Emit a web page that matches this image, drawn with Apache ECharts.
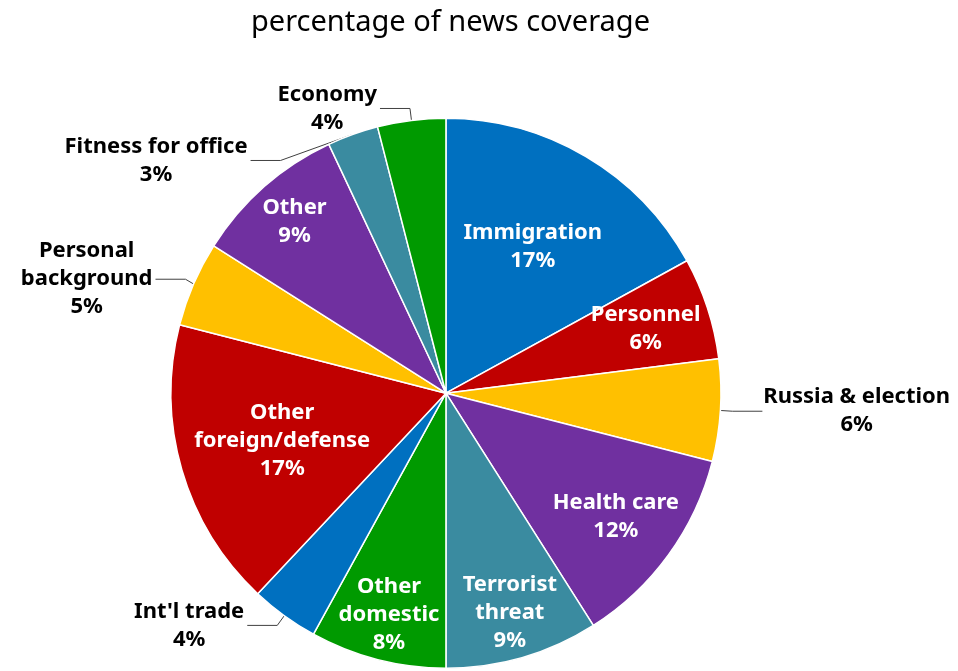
<!DOCTYPE html>
<html>
<head>
<meta charset="utf-8">
<script src="https://cdn.jsdelivr.net/npm/echarts@6/dist/echarts.min.js"></script>
<style>html,body{margin:0;padding:0;background:#fff;}#c{width:958px;height:671px;}</style>
</head>
<body>
<div id="c"></div>
<script>
const title = 'percentage of news coverage';
const categories = ['Immigration', 'Personnel', 'Russia & election', 'Health care', 'Terrorist\nthreat', 'Other\ndomestic', "Int'l trade", 'Other\nforeign/defense', 'Personal\nbackground', 'Other', 'Fitness for office', 'Economy'];
const values = [17, 6, 6, 12, 9, 8, 4, 17, 5, 9, 3, 4];

const palette = ['#0070C0', '#C00000', '#FFC000', '#7030A0', '#3A8BA0', '#009A00', '#0070C0', '#C00000', '#FFC000', '#7030A0', '#3A8BA0', '#009A00'];
const outsideSet = new Set(['Russia & election', "Int'l trade", 'Personal\nbackground', 'Fitness for office', 'Economy']);
// inside label rings (inner radius of a transparent ring whose mid-radius places the label)
const labelRings = [
  { r0: 60, names: ['Immigration', 'Other\nforeign/defense'] },
  { r0: 139, names: ['Personnel', 'Health care'] },
  { r0: 177, names: ['Terrorist\nthreat', 'Other\ndomestic', 'Other'] }
];
const FONT = 'Noto Sans';
const center = ['46.55%', '58.6%'];
const R = 275;

const fmt = p => p.name.split('\n').map(s => '{a|' + s + '}').join('\n') + '\n{a|' + Math.round(p.value) + '%}';

function mainData() {
  return categories.map((n, i) => {
    const out = outsideSet.has(n);
    return {
      name: n, value: values[i],
      itemStyle: { color: palette[i] },
      label: { show: out },
      labelLine: { show: out }
    };
  });
}
function labelData(names) {
  return categories.map((n, i) => ({
    name: n, value: values[i],
    itemStyle: { color: 'rgba(0,0,0,0)', borderWidth: 0 },
    label: { show: names.indexOf(n) >= 0 }
  }));
}
const insideLabel = {
  position: 'inside', formatter: fmt, overflow: 'none',
  rich: { a: { color: '#fff', fontWeight: 'bold', fontSize: 22, fontFamily: FONT, lineHeight: 28, align: 'center' } }
};

const series = [
  {
    type: 'pie', center: center, radius: [0, R], startAngle: 90, clockwise: true,
    avoidLabelOverlap: true,
    itemStyle: { borderColor: '#fff', borderWidth: 1.5 },
    label: {
      position: 'outside', formatter: fmt, distanceToLabelLine: 3, overflow: 'none',
      rich: { a: { color: '#000', fontWeight: 'bold', fontSize: 22, fontFamily: FONT, lineHeight: 28, align: 'center' } }
    },
    labelLine: { length: 12, length2: 30, lineStyle: { color: '#404040', width: 1 } },
    emphasis: { disabled: true },
    data: mainData()
  }
];
labelRings.forEach(ring => {
  series.push({
    type: 'pie', center: center, radius: [ring.r0, R], startAngle: 90, silent: true,
    avoidLabelOverlap: false, labelLine: { show: false },
    label: insideLabel, emphasis: { disabled: true },
    data: labelData(ring.names)
  });
});

const chart = echarts.init(document.getElementById('c'), null, { renderer: 'canvas' });
chart.setOption({
  animation: false,
  backgroundColor: '#fff',
  title: {
    text: title, left: '46.5%', textAlign: 'center', top: 3,
    textStyle: { fontFamily: FONT, fontWeight: 'normal', fontSize: 29, color: '#000' }
  },
  series: series
});
</script>
</body>
</html>
